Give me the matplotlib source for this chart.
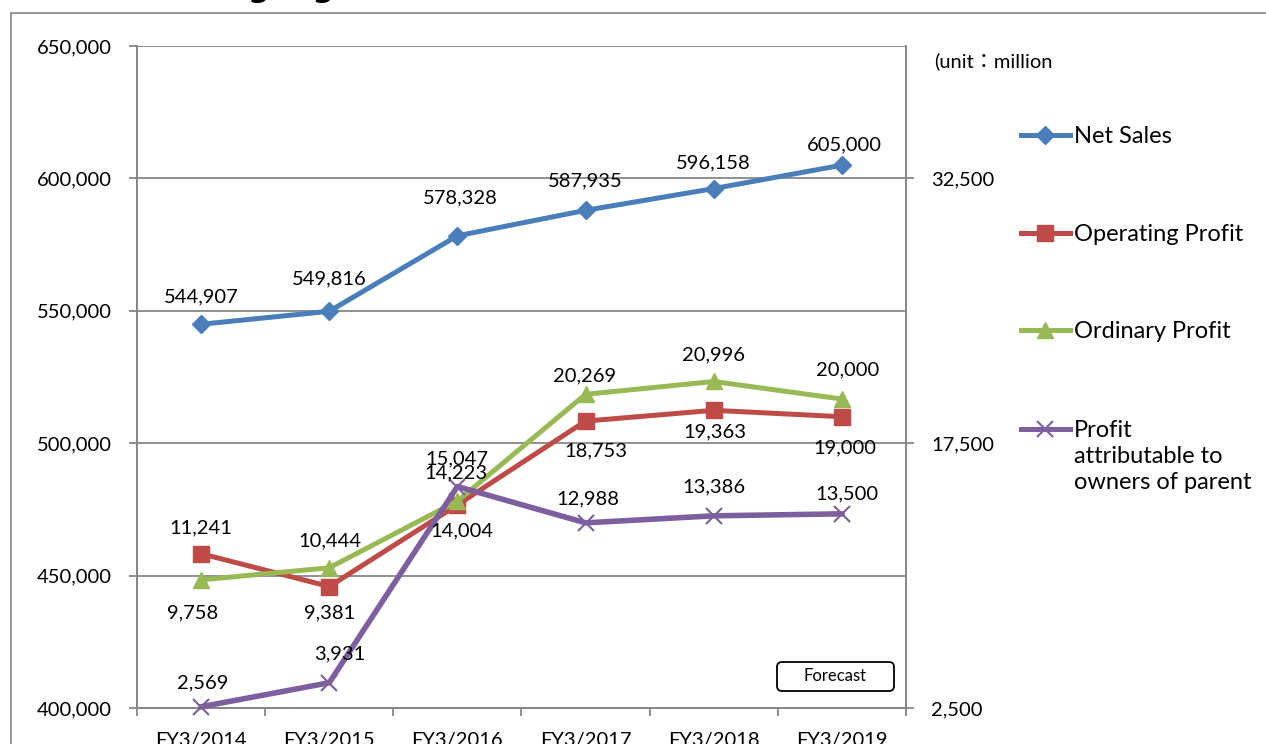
import matplotlib
matplotlib.use("Agg")
import matplotlib.pyplot as plt
from matplotlib.lines import Line2D
from matplotlib.patches import FancyBboxPatch, Rectangle
from matplotlib.ticker import FuncFormatter

plt.rcParams['font.family'] = ['Lato', 'DejaVu Sans']

years = ['FY3/2014', 'FY3/2015', 'FY3/2016', 'FY3/2017', 'FY3/2018', 'FY3/2019']
net_sales = [544907, 549816, 578328, 587935, 596158, 605000]
operating_profit = [11241, 9381, 14004, 18753, 19363, 19000]
ordinary_profit = [9758, 10444, 14223, 20269, 20996, 20000]
profit_parent = [2569, 3931, 15047, 12988, 13386, 13500]

names = ['Net Sales', 'Operating Profit', 'Ordinary Profit',
         'Profit\nattributable to\nowners of parent']
colors = ['#4A7EBB', '#BE4B48', '#98B954', '#7D5FA0']
markers = ['D', 's', '^', 'x']
msizes = [9, 11, 11, 11]
# label offsets from the point, in pixels (dx right, dy up)
label_dx = [[0, 0, 3, 0, 0, 2],
            [0, 0, 5, 10, 1, 3],
            [-8, 1, -1, -1, 0, 6],
            [2, 11, -1, 2, 0, 5]]
label_dy = [[27, 32, 38, 29, 26, 20],
            [26, -26, -26, -30, -22, -31],
            [-33, 27, 28, 18, 27, 29],
            [24, 29, 28, 24, 29, 20]]

W, H = 1266, 744
fig = plt.figure(figsize=(W / 100, H / 100), dpi=100)
ax = fig.add_axes([137 / W, (H - 708) / H, (906 - 137) / W, (708 - 46) / H])
ax2 = ax.twinx()

x = list(range(len(years)))
fmt = FuncFormatter(lambda v, p: f'{v:,.0f}')

ax.set_ylim(400000, 650000)
ax.set_yticks(range(400000, 650001, 50000))
ax.yaxis.set_major_formatter(fmt)
ax2.set_ylim(2500, 40000)
ax2.set_yticks([2500, 17500, 32500])
ax2.yaxis.set_major_formatter(fmt)
ax.set_xlim(-0.5, 5.5)

grey = '#878787'
ax.grid(axis='y', color=grey, linewidth=1.3)
ax.set_axisbelow(True)
for a in (ax, ax2):
    for s in a.spines.values():
        s.set_color(grey)
        s.set_linewidth(1.3)
    a.spines['top'].set_visible(False)

ax.set_xticks([i - 0.5 for i in range(len(years) + 1)])
ax.set_xticklabels([])
ax.set_xticks(x, minor=True)
ax.set_xticklabels(years, minor=True, fontsize=14.5)
ax.tick_params(axis='x', which='major', length=6, color=grey, width=1.3)
ax.tick_params(axis='x', which='minor', length=0, pad=17)
ax.tick_params(axis='y', length=6, color=grey, width=1.3, labelsize=14.5, pad=12)
ax2.tick_params(axis='y', length=6, color=grey, width=1.3, labelsize=14.5, pad=12)

series = [(ax, net_sales), (ax2, operating_profit), (ax2, ordinary_profit), (ax2, profit_parent)]
for k, (a, vals) in enumerate(series):
    lw = 3.6 if k < 3 else 4
    mew = 1.5 if markers[k] == 'x' else 1
    a.plot(x, vals, color=colors[k], lw=lw, marker=markers[k], ms=msizes[k],
           mec=colors[k], mfc=colors[k], mew=mew, zorder=3 + k, clip_on=False)
    for i, v in enumerate(vals):
        a.annotate(f'{v:,}', (x[i], v), xytext=(label_dx[k][i], label_dy[k][i]),
                   textcoords='offset pixels', ha='center', va='center',
                   fontsize=14.5, color='black', zorder=10)

# manual legend, positions in pixels
def px(xp, yp):
    return xp / 100, (H - yp) / 100

leg_y = [135, 233, 330, 429]
for k in range(4):
    x0, y0 = px(1021, leg_y[k])
    x1, _ = px(1070, leg_y[k])
    xm, _ = px(1045, leg_y[k])
    mew = 1.5 if markers[k] == 'x' else 1
    fig.add_artist(Line2D([x0, x1], [y0, y0], color=colors[k], lw=3.6,
                          transform=fig.dpi_scale_trans))
    fig.add_artist(Line2D([xm], [y0], color=colors[k], marker=markers[k], ms=msizes[k],
                          mfc=colors[k], mec=colors[k], mew=mew, transform=fig.dpi_scale_trans))
    tx, ty = px(1074, leg_y[k] - 9)
    fig.text(tx, ty, names[k], transform=fig.dpi_scale_trans, fontsize=17,
             va='top', ha='left', linespacing=1.3)

ux, uy = px(934, 61)
fig.text(ux, uy, '(unit：million', transform=fig.dpi_scale_trans, fontsize=14.5,
         va='center', ha='left', family=['Lato', 'Noto Sans CJK JP', 'DejaVu Sans'])

# forecast box
bx, by = px(777, 691)
fig.add_artist(FancyBboxPatch((bx, by), 1.17, 0.29, boxstyle='round,pad=0,rounding_size=0.05',
                              transform=fig.dpi_scale_trans, facecolor='white',
                              edgecolor='black', lw=1.3, zorder=20))
fx, fy = px(835, 676)
fig.text(fx, fy, 'Forecast', transform=fig.dpi_scale_trans, fontsize=12,
         ha='center', va='center', zorder=21)

# outer chart border
ox, oy = px(11, H + 20)
fig.add_artist(Rectangle((ox, oy), 13.0, (H + 20 - 13) / 100, transform=fig.dpi_scale_trans,
                         fill=False, edgecolor='#8c8c8c', lw=1.3))

# title, mostly above the visible area
tx, ty = px(47, -3)
fig.text(tx, ty, 'Financial Highlights', transform=fig.dpi_scale_trans, fontsize=22,
         fontweight='bold', ha='left', va='baseline', family='DejaVu Sans')

fig.savefig('out.png', dpi=100)
